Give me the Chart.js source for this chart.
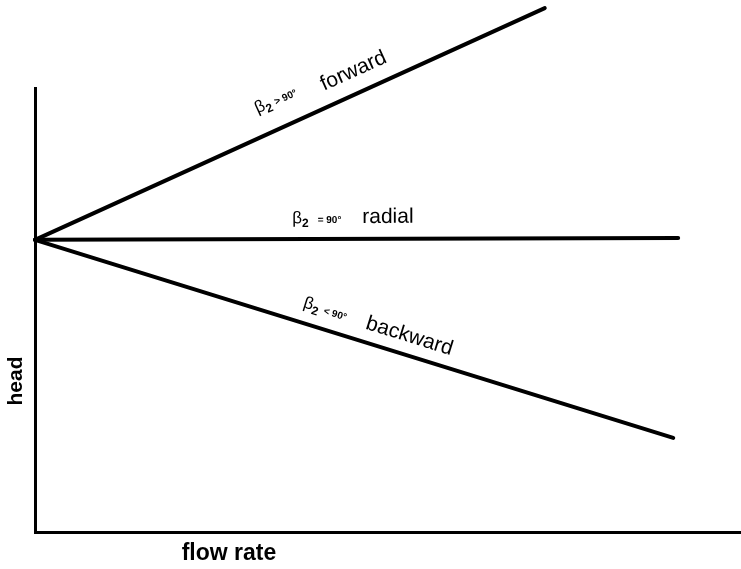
<!DOCTYPE html>
<html>
<head>
<meta charset="utf-8">
<script src="https://cdn.jsdelivr.net/npm/chart.js@4"></script>
<style>
  body { margin: 0; background: #fff; }
  #wrap { width: 741px; height: 569px; }
</style>
</head>
<body>
<div id="wrap"><canvas id="chart"></canvas></div>
<script>
// flow rate / head values (arbitrary units)
const flowForward = [0, 72.2];
const headForward = [65.8, 118];
const flowRadial = [0, 91.1];
const headRadial = [65.8, 66.2];
const flowBackward = [0, 90.4];
const headBackward = [65.8, 21.2];

const lineNames = ['forward', 'radial', 'backward'];
const angleText = ['> 90°', '= 90°', '< 90°'];
const xTitle = 'flow rate';
const yTitle = 'head';

const toPts = (xs, ys) => xs.map((x, i) => ({x, y: ys[i]}));

// t = fraction along the line where β starts, dSym / dWord = gap above the line,
// shift = where the word starts along the line, measured from β
const labelPos = [
    {t: 0.455, dSym: 23, dWord: 16, shift: 70, gap: 4},
    {t: 0.40, dSym: 16, dWord: 16, shift: 70, gap: 9},
    {t: 0.412, dSym: 15, dWord: 13, shift: 66, gap: 5},
];

const FONT = '"Liberation Sans", Arial, sans-serif';

const lineLabels = {
    id: 'lineLabels',
    afterDatasetsDraw(chart) {
        const ctx = chart.ctx;
        ctx.save();
        ctx.fillStyle = '#000';
        ctx.textBaseline = 'alphabetic';
        chart.data.datasets.forEach((ds, i) => {
            const pts = chart.getDatasetMeta(i).data;
            const p0 = pts[0], p1 = pts[1];
            const ang = Math.atan2(p1.y - p0.y, p1.x - p0.x);
            const pos = labelPos[i];
            const ax = p0.x + pos.t * (p1.x - p0.x);
            const ay = p0.y + pos.t * (p1.y - p0.y);
            ctx.save();
            ctx.translate(ax, ay);
            ctx.rotate(ang);
            let x = 0;
            const y = -pos.dSym;
            ctx.font = '17px ' + FONT;
            ctx.fillText('β', x, y);
            x += ctx.measureText('β').width;
            ctx.font = 'bold 12px ' + FONT;
            ctx.fillText('2', x, y + 4);
            x += ctx.measureText('2').width + pos.gap;
            ctx.font = 'bold 10px ' + FONT;
            ctx.fillText(angleText[i], x, y);
            ctx.font = '21px ' + FONT;
            ctx.fillText(lineNames[i], pos.shift, -pos.dWord);
            ctx.restore();
        });

        // axis titles
        ctx.textAlign = 'center';
        ctx.textBaseline = 'middle';
        ctx.font = 'bold 23px ' + FONT;
        ctx.fillText(xTitle, 229, 554);
        ctx.font = 'bold 21px ' + FONT;
        ctx.save();
        ctx.translate(16, 381);
        ctx.rotate(-Math.PI / 2);
        ctx.fillText(yTitle, 0, 0);
        ctx.restore();
        ctx.restore();
    }
};

const lineStyle = {
    borderColor: '#000',
    backgroundColor: '#000',
    borderWidth: 4,
    pointRadius: 0,
    showLine: true,
    clip: false,
    borderCapStyle: 'round',
};

new Chart(document.getElementById('chart'), {
    type: 'scatter',
    data: {
        datasets: [
            {label: 'forward', data: toPts(flowForward, headForward), ...lineStyle},
            {label: 'radial', data: toPts(flowRadial, headRadial), ...lineStyle},
            {label: 'backward', data: toPts(flowBackward, headBackward), ...lineStyle},
        ]
    },
    options: {
        responsive: true,
        maintainAspectRatio: false,
        animation: false,
        layout: {padding: {left: 35, top: 88, right: 0, bottom: 37}},
        plugins: {legend: {display: false}, tooltip: {enabled: false}},
        scales: {
            x: {
                type: 'linear', min: 0, max: 100,
                grid: {display: false, drawTicks: false, tickLength: 0},
                ticks: {display: false},
                border: {display: true, color: '#000', width: 3},
            },
            y: {
                type: 'linear', min: 0, max: 100,
                grid: {display: false, drawTicks: false, tickLength: 0},
                ticks: {display: false},
                border: {display: true, color: '#000', width: 3},
            }
        }
    },
    plugins: [lineLabels]
});
</script>
</body>
</html>
